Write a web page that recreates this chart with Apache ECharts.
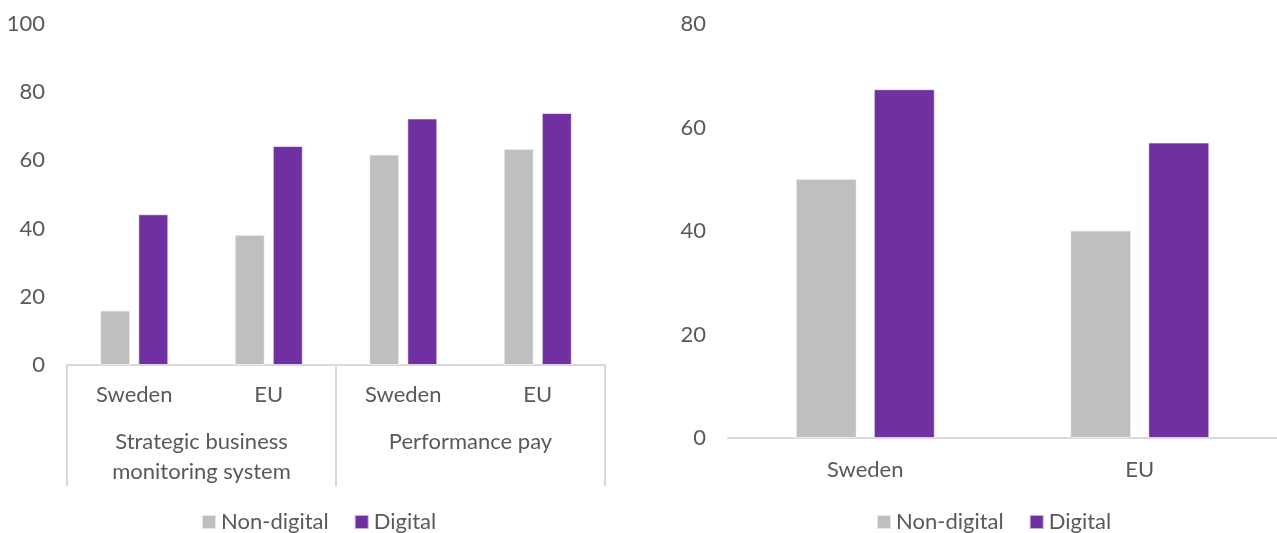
<!DOCTYPE html>
<html><head><meta charset="utf-8">
<script src="https://cdn.jsdelivr.net/npm/echarts@6/dist/echarts.min.js"></script>
<style>html,body{margin:0;padding:0;background:#fff}#c{width:1277px;height:533px}</style>
</head><body><div id="c"></div>
<script>
const seriesNames = ['Non-digital', 'Digital'];
const leftCategories = ['Sweden', 'EU', 'Sweden', 'EU'];
const leftGroups = ['Strategic business\nmonitoring system', 'Performance pay'];
const leftNonDigital = [16.0, 38.2, 61.7, 63.4];
const leftDigital = [44.2, 64.2, 72.3, 73.9];
const rightCategories = ['Sweden', 'EU'];
const rightNonDigital = [50.1, 40.1];
const rightDigital = [67.4, 57.1];
const leftTicks = [0, 20, 40, 60, 80, 100];
const rightTicks = [0, 20, 40, 60, 80];

const FONT = 'Lato, "Open Sans", sans-serif';
const FS = 22;
const TXT = '#595959';
const GREY = '#BFBFBF', PURPLE = '#7030A0';
const LINE = '#D9D9D9';

const chart = echarts.init(document.getElementById('c'), null, {renderer: 'canvas'});
const bar = (name, data, color, xi, yi, w, gap) => ({
  name, type: 'bar', data, xAxisIndex: xi, yAxisIndex: yi,
  barWidth: w, barGap: gap,
  itemStyle: {color, borderColor: 'rgba(255,255,255,0.6)', borderWidth: 1},
  emphasis: {disabled: true}
});
const legendText = {fontFamily: FONT, fontSize: FS, color: TXT};
chart.setOption({
  animation: false,
  textStyle: {fontFamily: FONT},
  legend: [
    {data: seriesNames, left: 201, top: 511, padding: 0, itemWidth: 14, itemHeight: 14, itemGap: 25,
     textStyle: legendText, icon: 'rect', selectedMode: false},
    {data: seriesNames.map(n => n + ' '), left: 876, top: 511, padding: 0, itemWidth: 14, itemHeight: 14, itemGap: 25,
     textStyle: legendText, icon: 'rect', formatter: n => n.trim(), selectedMode: false}
  ],
  grid: [
    {left: 67, right: 672, top: 24, bottom: 168, outerBoundsMode: 'none', containLabel: false},
    {left: 728, right: 0, top: 24, bottom: 95, outerBoundsMode: 'none', containLabel: false}
  ],
  xAxis: [
    {type: 'category', gridIndex: 0, data: leftCategories,
     axisLine: {lineStyle: {color: LINE, width: 2}}, axisTick: {show: false},
     axisLabel: {color: TXT, fontSize: FS, fontFamily: FONT, margin: 19}},
    {type: 'category', gridIndex: 0, position: 'bottom', data: leftGroups,
     axisLine: {show: false},
     axisTick: {show: true, length: 121, lineStyle: {color: LINE, width: 2}},
     axisLabel: {color: TXT, fontSize: FS, fontFamily: FONT, margin: 62, lineHeight: 30, verticalAlign: 'top'}},
    {type: 'category', gridIndex: 1, data: rightCategories,
     axisLine: {lineStyle: {color: LINE, width: 2}}, axisTick: {show: false},
     axisLabel: {color: TXT, fontSize: FS, fontFamily: FONT, margin: 21}}
  ],
  yAxis: [
    {type: 'value', gridIndex: 0, min: leftTicks[0], max: leftTicks[leftTicks.length - 1], interval: 20,
     axisLine: {show: false}, axisTick: {show: false}, splitLine: {show: false},
     axisLabel: {color: TXT, fontSize: FS, fontFamily: FONT, margin: 22}},
    {type: 'value', gridIndex: 1, min: rightTicks[0], max: rightTicks[rightTicks.length - 1], interval: 20,
     axisLine: {show: false}, axisTick: {show: false}, splitLine: {show: false},
     axisLabel: {color: TXT, fontSize: FS, fontFamily: FONT, margin: 22}}
  ],
  series: [
    bar(seriesNames[0], leftNonDigital, GREY, 0, 0, 30, '27%'),
    bar(seriesNames[1], leftDigital, PURPLE, 0, 0, 30, '27%'),
    bar(seriesNames[0] + ' ', rightNonDigital, GREY, 2, 1, 61, '28%'),
    bar(seriesNames[1] + ' ', rightDigital, PURPLE, 2, 1, 61, '28%')
  ]
});
</script></body></html>
